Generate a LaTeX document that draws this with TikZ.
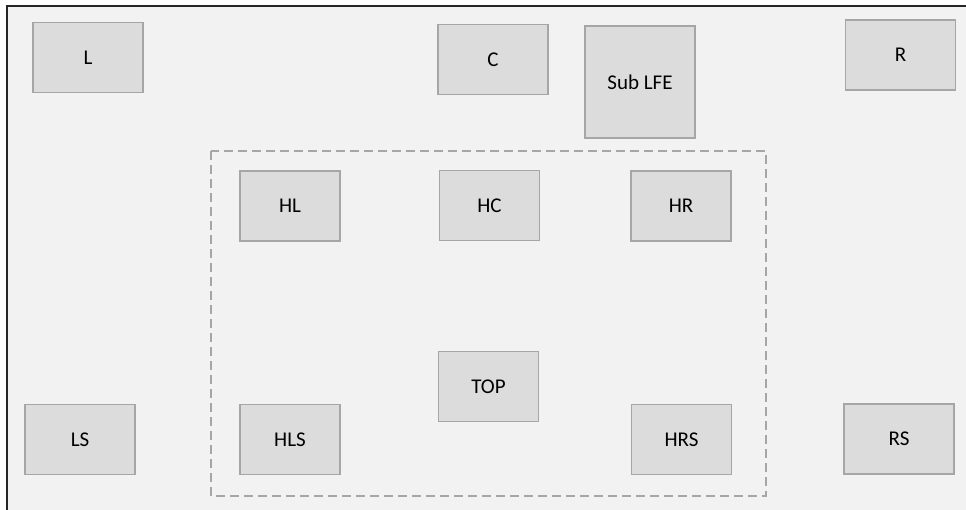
\documentclass[tikz,border=0pt]{standalone}
\usepackage{fontspec}
\setmainfont{Carlito}
\definecolor{bgfill}{HTML}{F2F2F2}
\definecolor{boxfill}{HTML}{DCDCDC}
\definecolor{boxline}{HTML}{A6A6A6}
\definecolor{frameline}{HTML}{262626}
\begin{document}
\begin{tikzpicture}[x=1pt,y=-1pt,
  spk/.style={draw=boxline,fill=boxfill,line width=1.8pt,rectangle,inner sep=0pt,
    minimum height=70pt,font=\fontsize{21}{24}\selectfont,text=black},
  bigspk/.style={spk,minimum width=110pt},
  smallspk/.style={spk,minimum width=100pt},
  zone/.style={draw=boxline,line width=2pt,dash pattern=on 9pt off 5pt}]
\useasboundingbox (0,0) rectangle (966,510);
\fill[white] (0,0) rectangle (966,510);
\fill[bgfill] (7,6) rectangle (966,510);
\draw[frameline,line width=2pt] (7,510) -- (7,6) -- (966,6);
% zone
\draw[zone] (211,151) rectangle (766,496);
% speakers
\node[bigspk] (L) at (88,57.5) {L};
\node[bigspk] (C) at (493,59.5) {C};
\node[bigspk,minimum height=112pt] (LFE) at (640,82) {Sub LFE};
\node[bigspk] (R) at (900.5,55) {R};
\node[smallspk] (HL) at (290,206) {HL};
\node[smallspk] (HC) at (489.5,205.5) {HC};
\node[smallspk] (HR) at (681,206) {HR};
\node[smallspk] (TOP) at (488.5,386.5) {TOP};
\node[bigspk] (LS) at (80,439.5) {LS};
\node[smallspk] (HLS) at (290,439.5) {HLS};
\node[smallspk] (HRS) at (681.5,439.5) {HRS};
\node[bigspk] (RS) at (899,439) {RS};
\end{tikzpicture}
\end{document}
